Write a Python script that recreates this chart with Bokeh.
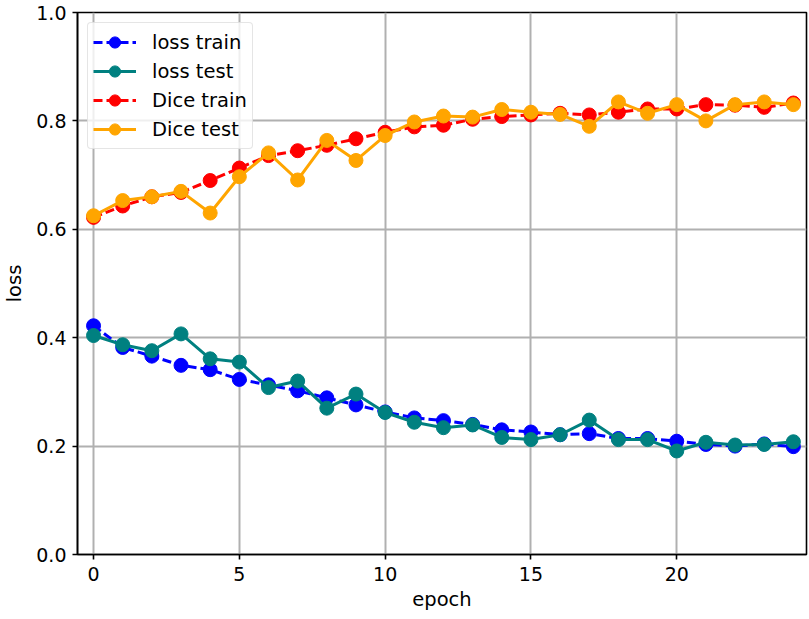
from bokeh.plotting import figure
from bokeh.models import FixedTicker, NumeralTickFormatter, Range1d, Legend, LegendItem
from bokeh.embed import file_html
from bokeh.resources import INLINE

# Training history per epoch
epochs = list(range(25))
loss_train = [0.422, 0.382, 0.366, 0.349, 0.341, 0.323, 0.313, 0.302, 0.289, 0.276,
              0.263, 0.252, 0.247, 0.240, 0.230, 0.226, 0.221, 0.223, 0.214, 0.214,
              0.209, 0.203, 0.200, 0.204, 0.199]
loss_test = [0.404, 0.387, 0.376, 0.407, 0.361, 0.355, 0.308, 0.320, 0.270, 0.296,
             0.262, 0.244, 0.234, 0.239, 0.216, 0.212, 0.221, 0.248, 0.212, 0.212,
             0.191, 0.207, 0.202, 0.203, 0.208]
dice_train = [0.622, 0.643, 0.660, 0.668, 0.690, 0.713, 0.736, 0.745, 0.755, 0.767,
              0.779, 0.789, 0.792, 0.803, 0.808, 0.811, 0.814, 0.811, 0.816, 0.822,
              0.822, 0.830, 0.829, 0.825, 0.833]
dice_test = [0.625, 0.653, 0.660, 0.670, 0.630, 0.697, 0.741, 0.691, 0.764, 0.727,
             0.773, 0.798, 0.809, 0.807, 0.821, 0.816, 0.812, 0.790, 0.835, 0.814,
             0.830, 0.800, 0.830, 0.835, 0.830]

x_ticks = [0, 5, 10, 15, 20]
y_ticks = [0.0, 0.2, 0.4, 0.6, 0.8, 1.0]

FONT = "DejaVu Sans"

p = figure(width=809, height=619, output_backend="svg", toolbar_location=None,
           x_range=Range1d(-0.55, 24.45), y_range=Range1d(0.0, 1.0),
           min_border_left=77, min_border_right=3, min_border_top=12, min_border_bottom=65)

p.background_fill_color = "white"
p.border_fill_color = "white"
p.outline_line_color = "black"
p.outline_line_width = 1.6

for ax in (p.xaxis, p.yaxis):
    ax.axis_line_color = "black"
    ax.axis_line_width = 1.6
    ax.major_tick_line_color = "black"
    ax.major_tick_line_width = 1.6
    ax.major_tick_out = 5
    ax.major_tick_in = 0
    ax.minor_tick_line_color = None
    ax.major_label_text_font = FONT
    ax.major_label_text_font_size = "19px"
    ax.major_label_text_color = "black"
    ax.axis_label_text_font = FONT
    ax.axis_label_text_font_size = "19.5px"
    ax.axis_label_text_font_style = "normal"
    ax.axis_label_text_color = "black"

p.xaxis.ticker = FixedTicker(ticks=x_ticks)
p.yaxis.ticker = FixedTicker(ticks=y_ticks)
p.yaxis.formatter = NumeralTickFormatter(format="0.0")
p.xaxis.axis_label = "epoch"
p.yaxis.axis_label = "loss"
p.xaxis.major_label_standoff = 7
p.yaxis.major_label_standoff = 6
p.xaxis.axis_label_standoff = 4
p.yaxis.axis_label_standoff = 7

p.grid.grid_line_color = "#b0b0b0"
p.grid.grid_line_width = 2

series = [
    ("loss train", loss_train, "blue", "9 4"),
    ("loss test", loss_test, "teal", "solid"),
    ("Dice train", dice_train, "red", "9 4"),
    ("Dice test", dice_test, "orange", "solid"),
]

items = []
for name, vals, color, dash in series:
    ln = p.line(epochs, vals, line_color=color, line_width=3, line_dash=dash)
    sc = p.scatter(epochs, vals, size=14, fill_color=color, line_color=color)
    items.append(LegendItem(label=name, renderers=[ln, sc]))

legend = Legend(items=items, location="top_left")
legend.label_text_font = FONT
legend.label_text_font_size = "19.5px"
legend.label_text_color = "black"
legend.label_height = 26
legend.glyph_width = 43
legend.glyph_height = 28
legend.spacing = 1
legend.label_standoff = 16
legend.padding = 5
legend.margin = 10
legend.border_line_color = "#cccccc"
legend.border_line_width = 1.5
legend.border_radius = 4
legend.background_fill_alpha = 0.8
p.add_layout(legend)

open("out.html", "w").write(file_html(p, INLINE))
